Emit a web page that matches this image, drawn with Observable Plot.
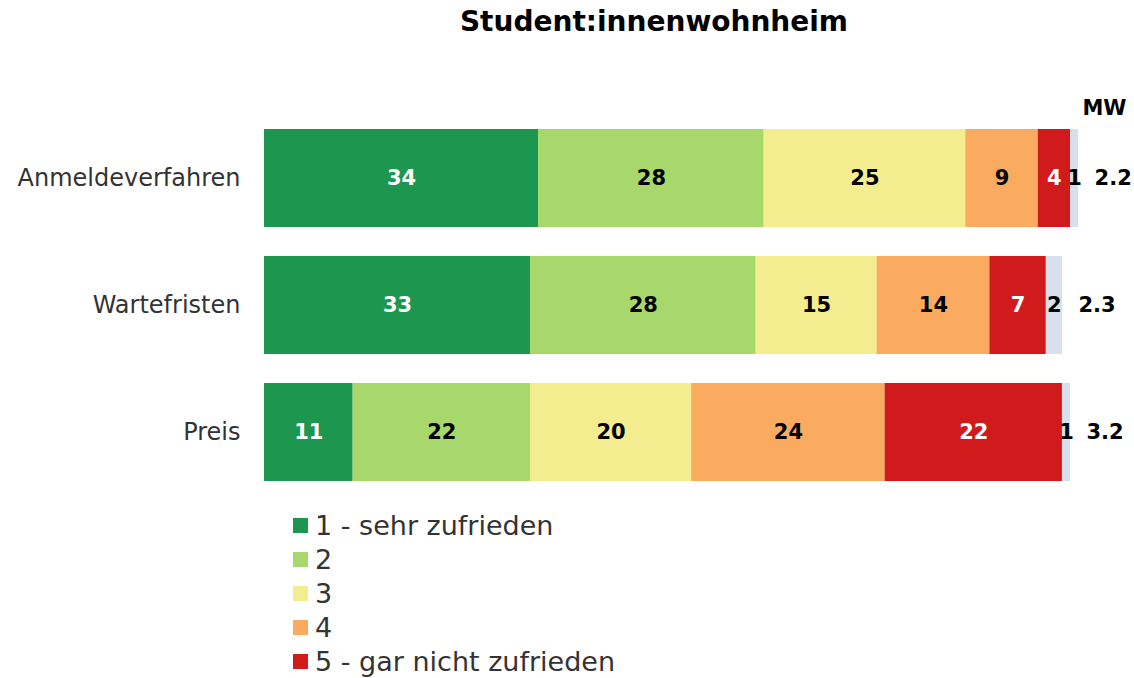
<!DOCTYPE html>
<html>
<head>
<meta charset="utf-8">
<script src="https://cdn.jsdelivr.net/npm/d3@7"></script>
<script src="https://cdn.jsdelivr.net/npm/@observablehq/plot@0.6"></script>
<style>
  body { margin: 0; background: #fff; font-family: "DejaVu Sans", sans-serif; }
  #title { width: 1134px; box-sizing: border-box; padding-left: 174px; text-align: center;
           font-weight: bold; font-size: 28px; line-height: 44px; color: #000; }
  #legend { margin-top: -6px; padding-left: 293px; }
  .item { display: flex; align-items: center; height: 34px; font-size: 27px; color: #333; }
  .sw { width: 15px; height: 15px; margin-right: 7px; }
</style>
</head>
<body>
<div id="title">Student:innenwohnheim</div>
<div id="chart"></div>
<div id="legend"></div>
<script>
const categories = ["Anmeldeverfahren", "Wartefristen", "Preis"];
const ratings = ["1 - sehr zufrieden", "2", "3", "4", "5 - gar nicht zufrieden", "keine Angabe"];
const colors = ["#1d974f", "#a8d86b", "#f4ed90", "#fbab5f", "#d01a1c", "#d7e0eb"];
const labelColors = ["#fff", "#000", "#000", "#000", "#fff", "#000"];
const anmeldeverfahren = [34, 28, 25, 9, 4, 1];
const wartefristen = [33, 28, 15, 14, 7, 2];
const preis = [11, 22, 20, 24, 22, 1];
const mw = [2.2, 2.3, 3.2];

const seriesByCat = [anmeldeverfahren, wartefristen, preis];
const rows = [];
categories.forEach((c, i) => seriesByCat[i].forEach((v, j) =>
  rows.push({category: c, rating: ratings[j], value: v, idx: j})));
const totals = categories.map((c, i) => ({category: c, total: d3.sum(seriesByCat[i]), mw: mw[i]}));

const plot = Plot.plot({
  width: 1134,
  height: 470,
  marginTop: 55,
  marginBottom: 3,
  marginLeft: 264,
  marginRight: 64,
  style: {fontFamily: "DejaVu Sans, sans-serif", background: "#fff"},
  x: {domain: [0, 100], axis: null},
  y: {domain: categories, padding: 0.231, label: null},
  color: {domain: ratings, range: colors},
  marks: [
    Plot.axisY({tickSize: 0, tickPadding: 24, fontSize: 24, color: "#333", label: null}),
    Plot.barX(rows, {x: "value", y: "category", fill: "rating", order: null}),
    Plot.text(rows, Plot.stackX({x: "value", y: "category", order: null,
      text: d => String(d.value), fill: d => labelColors[d.idx],
      fontSize: 21, fontWeight: "bold"})),
    Plot.text(totals, {x: "total", y: "category", text: d => d.mw.toFixed(1),
      textAnchor: "start", dx: 16, fontSize: 21, fontWeight: "bold", fill: "#000"}),
    Plot.text(["MW"], {x: 100, y: () => categories[0], dx: 34, dy: -70,
      fontSize: 21, fontWeight: "bold", fill: "#000"})
  ]
});
document.getElementById("chart").appendChild(plot);

const legend = document.getElementById("legend");
ratings.slice(0, 5).forEach((r, i) => {
  const it = document.createElement("div");
  it.className = "item";
  const sw = document.createElement("span");
  sw.className = "sw";
  sw.style.background = colors[i];
  const t = document.createElement("span");
  t.textContent = r;
  it.appendChild(sw); it.appendChild(t);
  legend.appendChild(it);
});
</script>
</body>
</html>
